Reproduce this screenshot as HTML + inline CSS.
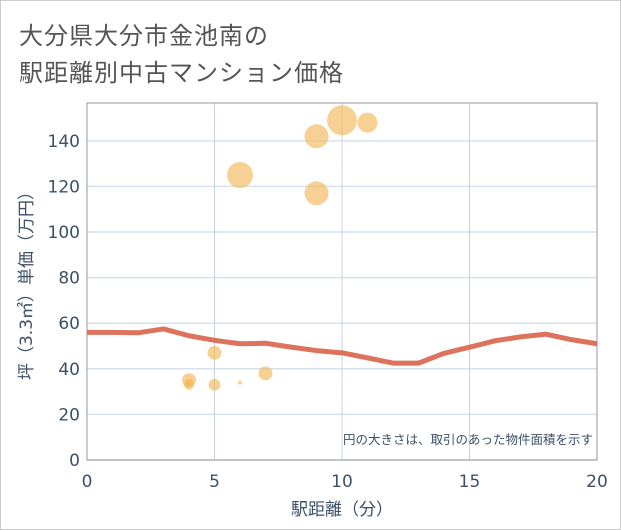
<!DOCTYPE html>
<html><head><meta charset="utf-8"><style>
body{margin:0;background:#fff;}
#card{position:absolute;left:0;top:0;width:619px;height:528px;border:1px solid #ccc;background:#fff;}
.t{position:absolute;left:18px;font:24px "Liberation Sans","Noto Sans CJK JP",sans-serif;color:#555;letter-spacing:1px}
svg text{font-family:"DejaVu Sans","Noto Sans CJK JP",sans-serif;}
</style></head><body>
<div id="card">
<div class="t" style="top:15px">大分県大分市金池南の</div>
<div class="t" style="top:52px">駅距離別中古マンション価格</div>
</div>
<svg id="chart" width="621" height="530" style="position:absolute;left:0;top:0"></svg>
<script>
const lineX=[0,1,2,3,4,5,6,7,8,9,10,11,12,13,14,15,16,17,18,19,20];
const lineY=[56,56,55.8,57.5,54.5,52.5,51,51.2,49.5,48,47,44.8,42.5,42.5,46.8,49.5,52.3,54,55.2,52.8,51];
const bubX=[4,4,4,5,5,6,7,6,9,9,10,11];
const bubY=[35,33,34,47,33,34,38,125,142,117,149,148];
const bubR=[7,5,4,7,6,2,7,13,12,12,15,10];
const xTicks=[0,5,10,15,20];
const yTicks=[0,20,40,60,80,100,120,140];
const L=87,R=597,T=103,B=460;
const sx=v=>L+(v/20)*(R-L);
const sy=v=>B-(v/156.6)*(B-T);
const svg=document.getElementById('chart');
const NS='http://www.w3.org/2000/svg';
function mk(tag,attrs,parent){const e=document.createElementNS(NS,tag);for(const k in attrs)e.setAttribute(k,attrs[k]);(parent||svg).appendChild(e);return e;}
let e;
yTicks.forEach(v=>{
 e=mk('line',{x1:L,x2:R,y1:sy(v),y2:sy(v),stroke:'#d5e2ee','stroke-width':1.5});
 
 e=mk('text',{x:L-7,y:sy(v)+6,'text-anchor':'end','font-size':17,fill:'#3d5068'});e.textContent=v;
 
});
xTicks.forEach(v=>{
 e=mk('line',{x1:sx(v),x2:sx(v),y1:T,y2:B,stroke:'#c5d3e0','stroke-width':1});
 
 e=mk('text',{x:sx(v),y:B+27,'text-anchor':'middle','font-size':17,fill:'#3d5068'});e.textContent=v;
 
});
e=mk('rect',{x:L,y:T,width:R-L,height:B-T,fill:'none',stroke:'#999','stroke-width':1});

bubX.forEach((x,i)=>{
 e=mk('circle',{cx:sx(x),cy:sy(bubY[i]),r:bubR[i],fill:'#f3b95a','fill-opacity':0.65});
 
});
e=mk('polyline',{points:lineX.map((x,i)=>sx(x)+','+sy(lineY[i])).join(' '),fill:'none',stroke:'#d9634b','stroke-width':5,'stroke-opacity':0.9,'stroke-linejoin':'round'});

e=mk('text',{x:R-4,y:444,'text-anchor':'end','font-size':12.5,fill:'#3d5068'});e.textContent='円の大きさは、取引のあった物件面積を示す';

e=mk('text',{x:sx(10),y:515,'text-anchor':'middle','font-size':17,fill:'#3d5068'});e.textContent='駅距離（分）';

e=mk('text',{x:0,y:0,'text-anchor':'middle','font-size':17,fill:'#3d5068',transform:'translate(32,'+((T+B)/2)+') rotate(-90)'});e.textContent='坪（3.3㎡）単価（万円）';

</script>
</body></html>
